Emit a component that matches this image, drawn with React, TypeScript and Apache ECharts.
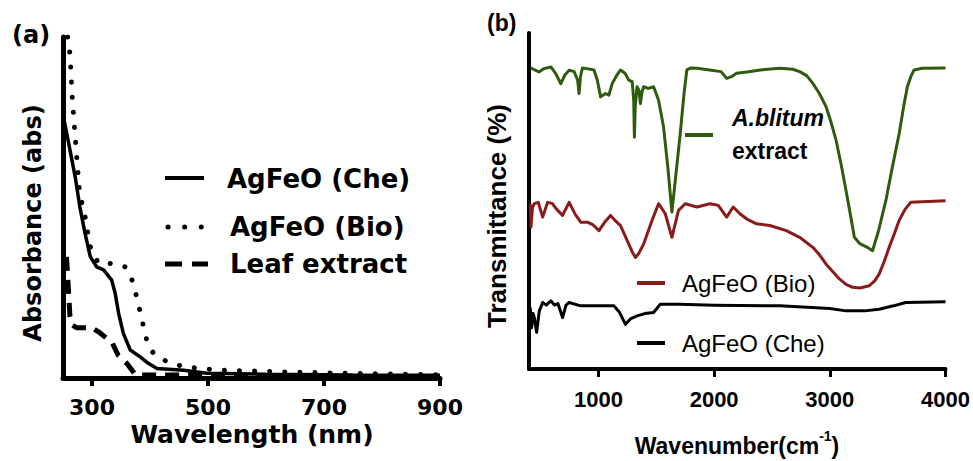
import React, { useEffect, useRef } from "react";
import * as echarts from "echarts";

// ---------- Panel (a): UV-Vis ----------
const uvTicks = [300, 500, 700, 900];

const wlChe = [250, 253, 262, 271, 279, 288, 297, 308, 320, 334, 340, 346, 354, 366, 383, 397, 412, 458, 498, 600, 750, 900];
const absChe = [77, 74.7, 66.9, 59.0, 50.2, 42.4, 35.6, 32.6, 31.7, 28.7, 24.8, 18.9, 13.1, 8.2, 6.2, 4.3, 2.8, 2.3, 1.4, 1.1, 0.9, 0.8];

const wlBio = [258, 262, 266, 270, 274, 278, 283, 288, 297, 311, 331, 357, 369, 377, 383, 389, 395, 406, 429, 458, 516, 631, 760, 900];
const absBio = [100, 95, 82, 73, 64, 55.5, 51, 47.3, 38.5, 33.6, 33.6, 32.6, 28.7, 23.8, 19.4, 15.0, 10.6, 7.2, 4.8, 3.3, 2.3, 1.8, 1.3, 0.9];

const wlLeaf = [256, 258, 260, 262, 266, 274, 300, 314, 335, 345, 361, 375, 500, 520, 900];
const absLeaf = [35.5, 30, 24, 18, 15.5, 14.7, 14.7, 13.2, 10.3, 6.7, 4.1, 0.9, 0.9, 0.3, 0.3];

// ---------- Panel (b): FTIR ----------
const irTicks = [1000, 2000, 3000, 4000];

const wnExt = [417, 450, 486, 530, 589, 630, 675, 710, 747, 790, 820, 833, 845, 862, 900, 962, 990, 1019, 1062, 1090, 1120, 1160, 1191, 1230, 1262, 1292, 1305, 1311, 1318, 1334, 1350, 1363, 1377, 1391, 1430, 1477, 1520, 1563, 1600, 1635, 1670, 1707, 1740, 1764, 1800, 1851, 1960, 2060, 2108, 2150, 2194, 2300, 2400, 2567, 2680, 2739, 2800, 2853, 2910, 2968, 3010, 3054, 3100, 3140, 3180, 3212, 3260, 3320, 3369, 3420, 3484, 3540, 3599, 3640, 3670, 3700, 3728, 3800, 4000];
const trExt = [89.6, 89.0, 88.4, 89.4, 89.9, 88.0, 84.9, 87.5, 88.9, 88.5, 86.0, 82.0, 87.0, 89.6, 89.4, 89.0, 86.0, 81.0, 82.0, 81.5, 85.0, 87.5, 89.0, 88.0, 86.0, 85.5, 80.0, 69.0, 78.0, 84.0, 83.0, 79.0, 82.5, 84.0, 83.5, 84.0, 80.0, 72.0, 60.0, 46.7, 58.0, 70.0, 82.0, 89.0, 89.6, 89.5, 89.0, 88.5, 86.5, 87.0, 88.0, 88.5, 89.0, 89.5, 89.2, 88.5, 87.3, 85.0, 82.0, 78.0, 73.5, 68.1, 60.5, 53.1, 45.5, 39.2, 37.3, 36.3, 35.2, 41.0, 50.1, 60.0, 70.0, 78.5, 84.0, 87.0, 89.0, 89.5, 89.6];

const wnBio = [411, 417, 430, 446, 480, 518, 561, 600, 640, 690, 747, 800, 847, 905, 950, 1005, 1050, 1105, 1150, 1191, 1249, 1290, 1320, 1350, 1391, 1463, 1520, 1578, 1635, 1692, 1750, 1851, 1965, 2036, 2108, 2165, 2223, 2280, 2366, 2481, 2624, 2739, 2853, 2910, 2968, 3030, 3083, 3140, 3197, 3260, 3341, 3390, 3427, 3470, 3513, 3560, 3599, 3650, 3699, 4000];
const trBio = [49.2, 42.2, 48.0, 49.2, 49.6, 45.2, 49.6, 49.3, 47.5, 45.7, 49.6, 46.0, 43.7, 43.7, 43.0, 41.2, 43.5, 45.7, 44.0, 42.7, 38.2, 35.0, 33.2, 34.5, 37.2, 44.2, 49.2, 46.2, 39.2, 47.2, 49.2, 48.2, 49.2, 48.7, 45.2, 48.2, 46.2, 44.7, 43.2, 42.7, 41.2, 39.2, 36.2, 34.0, 31.2, 28.8, 26.8, 25.2, 24.3, 24.1, 24.8, 26.3, 28.3, 32.0, 36.2, 40.5, 44.2, 47.5, 49.6, 50.1];

const wnChe = [411, 423, 435, 446, 466, 489, 518, 550, 589, 620, 650, 690, 720, 747, 847, 1000, 1133, 1180, 1234, 1280, 1334, 1400, 1477, 1535, 1700, 2000, 2567, 3000, 3140, 3300, 3427, 3550, 3656, 4000];
const trChe = [18.3, 12.3, 16.5, 15.3, 10.9, 17.3, 19.8, 19.0, 20.3, 19.0, 19.5, 15.3, 19.0, 19.8, 18.8, 18.8, 18.8, 17.0, 13.3, 15.0, 15.8, 16.5, 16.8, 19.3, 19.3, 19.0, 18.8, 18.0, 17.3, 17.3, 17.8, 18.8, 19.8, 20.0];

const GREEN = "#2f5c0c";
const RED = "#8b1a1a";
const FA = "DejaVu Sans";
const FB = "Liberation Sans";

const zip = (xs: number[], ys: number[]) => xs.map((x, i) => [x, ys[i]]);

export default function App() {
  const ref = useRef<HTMLDivElement>(null);
  useEffect(() => {
    const chart = echarts.init(ref.current!, null, { renderer: "svg" });
    const axisCommon = (w: number) => ({
      axisLine: { show: true, onZero: false, lineStyle: { color: "#000", width: w } },
      splitLine: { show: false },
    });
    chart.setOption({
      animation: false,
      backgroundColor: "#fff",
      grid: [
        { left: 63, top: 37, width: 377, height: 341 },
        { left: 529, top: 33, width: 418, height: 336 },
      ],
      xAxis: [
        {
          gridIndex: 0, type: "value", min: 250, max: 900,
          ...axisCommon(5),
          axisTick: { show: true, customValues: uvTicks, length: 8, lineStyle: { color: "#000", width: 4 } },
          axisLabel: { customValues: uvTicks, formatter: (v: number) => String(v), margin: 18, fontSize: 22, fontWeight: "bold", fontFamily: FA, color: "#000" },
        },
        {
          gridIndex: 1, type: "value", min: 400, max: 4000,
          ...axisCommon(4),
          axisTick: { show: true, customValues: irTicks, length: 8, lineStyle: { color: "#000", width: 3 } },
          axisLabel: { customValues: irTicks, formatter: (v: number) => String(v), margin: 19, fontSize: 22, fontWeight: "bold", fontFamily: FB, color: "#000" },
        },
      ],
      yAxis: [
        { gridIndex: 0, type: "value", min: 0, max: 100, ...axisCommon(5), axisTick: { show: false }, axisLabel: { show: false } },
        { gridIndex: 1, type: "value", min: 0, max: 100, ...axisCommon(4), axisTick: { show: false }, axisLabel: { show: false } },
      ],
      series: [
        { type: "line", xAxisIndex: 0, yAxisIndex: 0, data: zip(wlChe, absChe), showSymbol: false, silent: true, lineStyle: { color: "#000", width: 3.5 } },
        { type: "line", xAxisIndex: 0, yAxisIndex: 0, data: zip(wlBio, absBio), showSymbol: false, silent: true, lineStyle: { color: "#000", width: 5, type: [0.1, 15], cap: "round" } },
        { type: "line", xAxisIndex: 0, yAxisIndex: 0, data: zip(wlLeaf, absLeaf), showSymbol: false, silent: true, lineStyle: { color: "#000", width: 5, type: [14, 9] } },
        { type: "line", xAxisIndex: 1, yAxisIndex: 1, data: zip(wnExt, trExt), showSymbol: false, silent: true, lineStyle: { color: GREEN, width: 3, join: "round" } },
        { type: "line", xAxisIndex: 1, yAxisIndex: 1, data: zip(wnBio, trBio), showSymbol: false, silent: true, lineStyle: { color: RED, width: 3, join: "round" } },
        { type: "line", xAxisIndex: 1, yAxisIndex: 1, data: zip(wnChe, trChe), showSymbol: false, silent: true, lineStyle: { color: "#000", width: 3, join: "round" } },
      ],
      graphic: [
        // panel labels
        { type: "text", x: 12, y: 35, style: { text: "(a)", fontSize: 24, fontWeight: "bold", fontFamily: FA, fill: "#000", align: "left", verticalAlign: "middle" } },
        { type: "text", x: 487, y: 23, style: { text: "(b)", fontSize: 23, fontWeight: "bold", fontFamily: FB, fill: "#000", align: "left", verticalAlign: "middle" } },
        // axis names
        { type: "text", x: 252, y: 434, style: { text: "Wavelength (nm)", fontSize: 25, fontWeight: "bold", fontFamily: FA, fill: "#000", align: "center", verticalAlign: "middle" } },
        { type: "text", x: 33, y: 223, rotation: Math.PI / 2, style: { text: "Absorbance (abs)", fontSize: 24, fontWeight: "bold", fontFamily: FA, fill: "#000", align: "center", verticalAlign: "middle" } },
        { type: "text", x: 497, y: 216, rotation: Math.PI / 2, style: { text: "Transmittance (%)", fontSize: 26, fontWeight: "bold", fontFamily: FB, fill: "#000", align: "center", verticalAlign: "middle" } },
        {
          type: "text", x: 737, y: 443,
          style: {
            text: "{a|Wavenumber(cm}{s|-1}{a|)}", align: "center", verticalAlign: "middle", fill: "#000",
            rich: {
              a: { fontSize: 23, fontWeight: "bold", fontFamily: FB, lineHeight: 28, verticalAlign: "bottom" },
              s: { fontSize: 14, fontWeight: "bold", fontFamily: FB, lineHeight: 14, verticalAlign: "top" },
            },
          },
        },
        // legend (a)
        { type: "line", shape: { x1: 165, y1: 178, x2: 204, y2: 178 }, style: { stroke: "#000", lineWidth: 4 } },
        { type: "text", x: 227, y: 179, style: { text: "AgFeO (Che)", fontSize: 26, fontWeight: "bold", fontFamily: FA, fill: "#000", align: "left", verticalAlign: "middle" } },
        { type: "line", shape: { x1: 168, y1: 227, x2: 204, y2: 227 }, style: { stroke: "#000", lineWidth: 5, lineDash: [0.1, 16.5], lineCap: "round" } },
        { type: "text", x: 230, y: 227, style: { text: "AgFeO (Bio)", fontSize: 26, fontWeight: "bold", fontFamily: FA, fill: "#000", align: "left", verticalAlign: "middle" } },
        { type: "line", shape: { x1: 165, y1: 264, x2: 208, y2: 264 }, style: { stroke: "#000", lineWidth: 5, lineDash: [17, 10] } },
        { type: "text", x: 230, y: 264, style: { text: "Leaf extract", fontSize: 26, fontWeight: "bold", fontFamily: FA, fill: "#000", align: "left", verticalAlign: "middle" } },
        // legend (b)
        { type: "line", shape: { x1: 685, y1: 135, x2: 713, y2: 135 }, style: { stroke: GREEN, lineWidth: 4 } },
        { type: "text", x: 732, y: 118, style: { text: "A.blitum", fontSize: 23, fontWeight: "bold", fontStyle: "italic", fontFamily: FB, fill: "#000", align: "left", verticalAlign: "middle" } },
        { type: "text", x: 732, y: 151, style: { text: "extract", fontSize: 23, fontWeight: "bold", fontFamily: FB, fill: "#000", align: "left", verticalAlign: "middle" } },
        { type: "line", shape: { x1: 637, y1: 283, x2: 665, y2: 283 }, style: { stroke: RED, lineWidth: 4 } },
        { type: "text", x: 682, y: 283, style: { text: "AgFeO (Bio)", fontSize: 24, fontFamily: FB, fill: "#000", align: "left", verticalAlign: "middle" } },
        { type: "line", shape: { x1: 637, y1: 343, x2: 665, y2: 343 }, style: { stroke: "#000", lineWidth: 4 } },
        { type: "text", x: 682, y: 343, style: { text: "AgFeO (Che)", fontSize: 24, fontFamily: FB, fill: "#000", align: "left", verticalAlign: "middle" } },
      ],
    });
    return () => chart.dispose();
  }, []);
  return <div ref={ref} style={{ position: "fixed", left: 0, top: 0, width: 973, height: 461 }} />;
}
